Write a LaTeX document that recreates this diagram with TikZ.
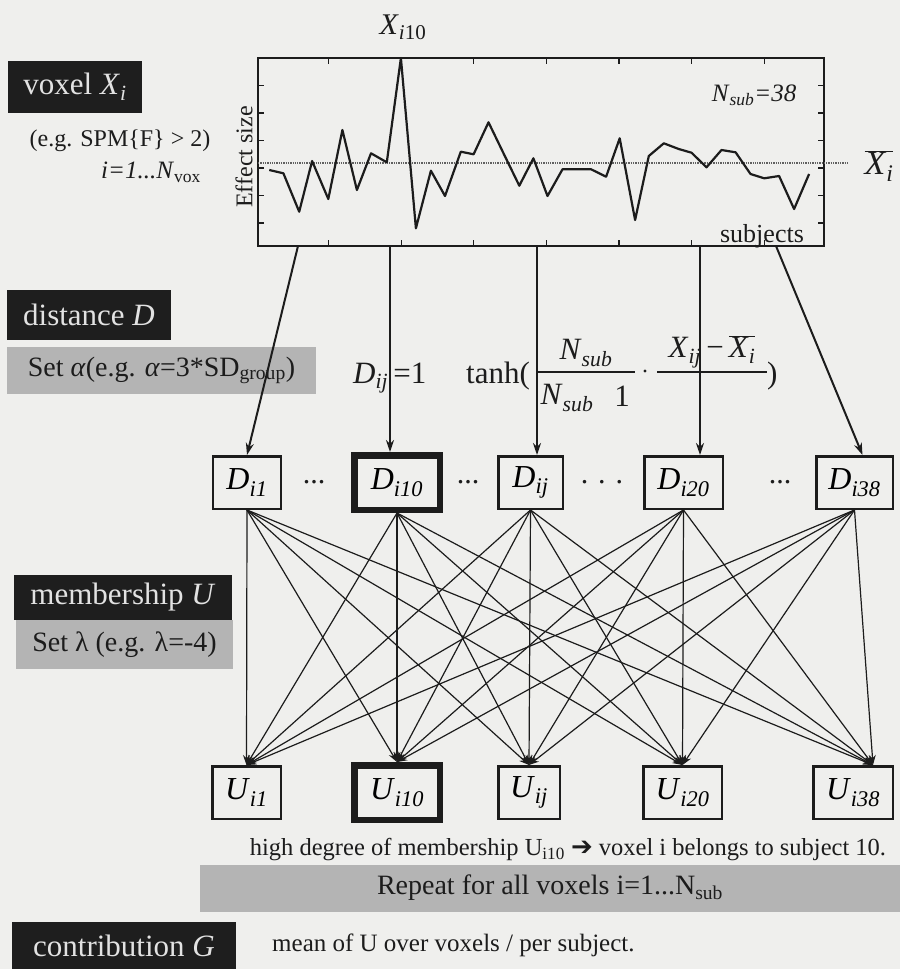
\documentclass[tikz,border=0pt]{standalone}
\usepackage{fontspec}
\setmainfont{Liberation Serif}
\newfontfamily\symfont{DejaVu Sans}
\usetikzlibrary{arrows.meta}

\newcommand\sub[1]{\textsubscript{#1}}
\newcommand\fs[1]{\fontsize{#1}{#1}\selectfont}
\newcommand\xbar{$\overline{\mbox{\textit{X}\sub{\textit{i}}}}$}

\definecolor{paper}{RGB}{239,239,237}
\definecolor{ink}{RGB}{28,28,28}
\definecolor{boxdark}{RGB}{30,30,30}
\definecolor{boxgray}{RGB}{180,180,180}
\definecolor{labtext}{RGB}{226,226,226}

\begin{document}
\begin{tikzpicture}[x=1pt,y=-1pt,
  darkbox/.style={fill=boxdark,text=labtext,inner sep=0pt,font=\fs{31}},
  graybox/.style={fill=boxgray,text=ink,inner sep=0pt,font=\fs{28}},
  cell/.style={draw=ink,line width=2.5pt,minimum height=52.5pt,inner sep=0pt,font=\fs{32}},
  heavycell/.style={cell,line width=6.5pt,minimum height=54.5pt},
  feed/.style={draw=ink,line width=2pt,-{Stealth[length=12pt,width=8pt]}},
  link/.style={draw=ink,line width=1.2pt,-{Stealth[length=10pt,width=7pt]}},
  lbl/.style={inner sep=0pt,text=ink},
]
\useasboundingbox (0,0) rectangle (900,969);
\fill[paper] (0,0) rectangle (900,969);

% ---- left-hand step labels
\node[darkbox,minimum width=134pt,minimum height=52pt] (voxel) at (75,87) {voxel \textit{X}\sub{\textit{i}}};
\node[lbl,font=\fs{24}] (spm) at (120,141) {(e.g. SPM\{F\} > 2)};
\node[lbl,font=\fs{25}] (range) at (151,172) {\textit{i=1...N}\sub{vox}};

\node[darkbox,minimum width=164pt,minimum height=50pt] (dist) at (89,315) {distance \textit{D}};
\node[graybox,minimum width=309pt,minimum height=47pt] (alpha) at (161.5,370.5) {Set \textit{α}(e.g. \textit{α}=3*SD\sub{group})};

\node[darkbox,minimum width=218pt,minimum height=45pt] (memb) at (123,597) {membership \textit{U}};
\node[graybox,minimum width=217pt,minimum height=49pt] (lambda) at (124.5,644.5) {Set λ (e.g. λ=-4)};

\node[darkbox,minimum width=224pt,minimum height=48pt] (contrib) at (124,946) {contribution \textit{G}};
\node[lbl,font=\fs{25},anchor=west] (meanU) at (272,945) {mean of U over voxels / per subject.};

% ---- effect-size plot
\draw[ink,line width=1.8pt] (258,58) rectangle (824,246);
\foreach \yy in {85.5,113,140.5,168,195.5,223} {
  \draw[ink,line width=1.2pt] (258,\yy) -- +(6,0);
  \draw[ink,line width=1.2pt] (824,\yy) -- +(-6,0);
}
\foreach \xx in {328.6,401.2,473.8,546.4,619,691.6,764.2} {
  \draw[ink,line width=1.2pt] (\xx,58) -- +(0,6);
  \draw[ink,line width=1.2pt] (\xx,246) -- +(0,-6);
}
\draw[ink!70,line width=1.3pt,densely dotted] (258,163) -- (847,163);
\draw[ink,line width=2.2pt,line join=round] plot coordinates {
 (269.3,170) (283.4,173.3) (299.2,211.7) (312.1,161) (328.3,199) (342.4,130)
 (356.9,190) (371.0,153.3) (386.8,162.3) (400.9,58) (415.9,228.3) (430.9,170.7)
 (445.0,196) (460.8,151.7) (473.6,154.3) (488.5,122.3) (503.5,153.3) (519.3,185.7)
 (533.4,158.3) (547.5,196) (562.5,169.3) (576.2,169.3) (591.1,169.3) (606.1,176.7)
 (619.7,138.3) (635.1,220) (648.8,156) (663.8,143.3) (678.7,149) (691.5,152.7)
 (706.5,167.3) (721.5,150) (735.6,152.3) (750.5,174) (764.2,178.3) (779.1,176)
 (794.1,209) (809.1,174)};
\node[lbl,font=\fs{30}] (peak) at (403,27) {\textit{X}\sub{\textit{i}10}};
\node[lbl,font=\fs{24},rotate=90] (ylab) at (244,157) {Effect size};
\node[lbl,font=\fs{25}] (nsub) at (754,95) {\textit{N}\sub{\textit{sub}}\textit{=38}};
\node[lbl,font=\fs{26}] (xlab) at (762,236) {subjects};
\node[lbl,font=\fs{34}] (mean) at (879,166) {\xbar};

% plot outlets
\coordinate (p1) at (298,246);
\coordinate (p2) at (390,246);
\coordinate (p3) at (537,246);
\coordinate (p4) at (700,246);
\coordinate (p5) at (776,246);

% ---- distance formula
\node[lbl,font=\fs{31},anchor=base west] (lhs) at (353,383) {\textit{D}\sub{\textit{ij}}\,=1};
\node[lbl,font=\fs{31},anchor=base west] (tanh) at (466,383) {tanh(};
\draw[ink,line width=1.3pt] (537,372) -- (635,372);
\node[lbl,font=\fs{31}] (fn) at (586,353) {\textit{N}\sub{\textit{sub}}};
\node[lbl,font=\fs{31}] (fd) at (567,398) {\textit{N}\sub{\textit{sub}}};
\node[lbl,font=\fs{31}] (fone) at (622,396) {1};
\fill[ink] (645,371) circle (1.6pt);
\draw[ink,line width=1.3pt] (657,372) -- (767,372);
\node[lbl,font=\fs{31}] (gn) at (712,352) {\textit{X}\sub{\textit{ij}}\,−\,\xbar};
\node[lbl,font=\fs{31},anchor=base west] (close) at (767,383) {)};

% ---- distance cells
\node[cell,minimum width=68pt] (D1) at (247,482.5) {\textit{D}\sub{\textit{i1}}};
\node[heavycell,minimum width=85.5pt] (D10) at (397,482.5) {\textit{D}\sub{\textit{i10}}};
\node[cell,minimum width=64.5pt] (Dij) at (530.5,482.5) {\textit{D}\sub{\textit{ij}}};
\node[cell,minimum width=78.5pt] (D20) at (683.5,482.5) {\textit{D}\sub{\textit{i20}}};
\node[cell,minimum width=76.5pt] (D38) at (854.5,482.5) {\textit{D}\sub{\textit{i38}}};
\node[lbl,font=\fs{30}] (e1) at (314,482) {...};
\node[lbl,font=\fs{30}] (e2) at (468,482) {...};
\node[lbl,font=\fs{30}] (e3) at (602,482) {.\,\,.\,\,.};
\node[lbl,font=\fs{30}] (e4) at (780,482) {...};

\draw[feed] (p1) -- (D1.north);
\draw[feed] (p2) -- (p2 |- D10.north);
\draw[feed] (p3) -- (p3 |- Dij.north);
\draw[feed] (p4) -- (p4 |- D20.north);
\draw[feed] (p5) -- ([xshift=8pt]D38.north);

% ---- membership cells
\node[cell,minimum width=68.5pt] (U1) at (246.5,792.5) {\textit{U}\sub{\textit{i1}}};
\node[heavycell,minimum width=85.5pt] (U10) at (397,792.5) {\textit{U}\sub{\textit{i10}}};
\node[cell,minimum width=61.5pt] (Uij) at (529,792.5) {\textit{U}\sub{\textit{ij}}};
\node[cell,minimum width=78.5pt] (U20) at (682.5,792.5) {\textit{U}\sub{\textit{i20}}};
\node[cell,minimum width=79.5pt] (U38) at (853,792.5) {\textit{U}\sub{\textit{i38}}};
\coordinate (u38in) at ([xshift=20pt]U38.north);

% every distance feeds every membership
\foreach \d in {D1,D10,Dij,D20,D38} {
  \foreach \u in {U1.north,U10.north,Uij.north,U20.north,u38in} {
    \draw[link] (\d.south) -- (\u);
  }
}

% ---- notes
\node[lbl,font=\fs{24.5}] (note) at (568,850) {high degree of membership U\sub{i10} {\symfont\fs{26}➔} voxel i belongs to subject 10.};
\node[graybox,minimum width=700pt,minimum height=47pt] (repeat) at (550,888.5) {};
\node[lbl,font=\fs{28}] (reptext) at (550,888) {Repeat for all voxels i=1...N\sub{sub}};
\end{tikzpicture}
\end{document}
